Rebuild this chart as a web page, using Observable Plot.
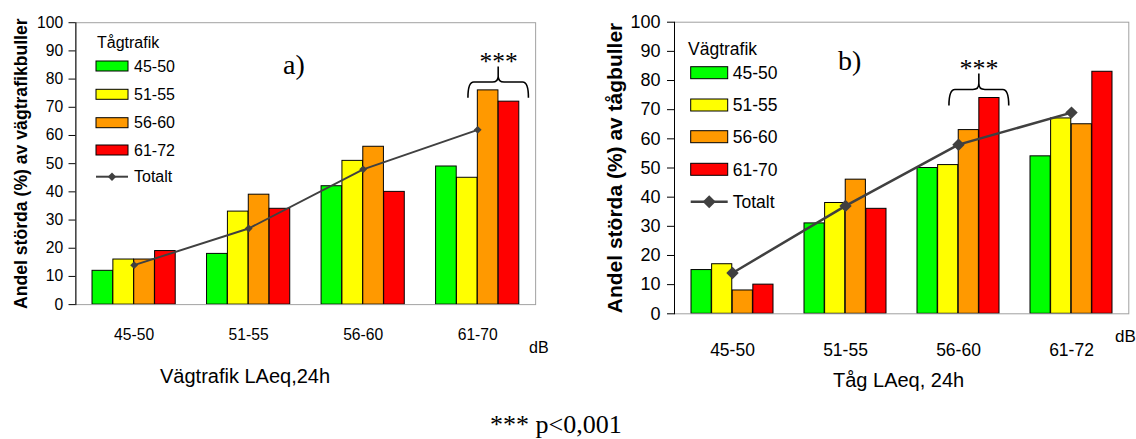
<!DOCTYPE html>
<html>
<head>
<meta charset="utf-8">
<script src="https://cdn.jsdelivr.net/npm/d3@7"></script>
<script src="https://cdn.jsdelivr.net/npm/@observablehq/plot@0.6"></script>
<style>
  body { margin: 0; background: #fff; }
  #root { position: relative; width: 1136px; height: 439px; overflow: hidden; background: #fff; }
  .panel { position: absolute; top: 0; overflow: hidden; }
  .panel svg { display: block; }
  #overlay { position: absolute; left: 0; top: 0; pointer-events: none; }
</style>
</head>
<body>
<div id="root"></div>
<script>
// ---- Data ----------------------------------------------------------------
// Panel a: share annoyed by road traffic noise, grouped by road LAeq,24h,
// one bar per train-noise class.
const roadLevelsA = ["45-50", "51-55", "56-60", "61-70"];
const trainClassesA = ["45-50", "51-55", "56-60", "61-72"];
const a_45_50 = [12, 18, 42, 49];
const a_51_55 = [16, 33, 51, 45];
const a_56_60 = [16, 39, 56, 76];
const a_61_72 = [19, 34, 40, 72];
const a_total = [14, 27, 48, 62];

// Panel b: share annoyed by train noise, grouped by train LAeq,24h,
// one bar per road-noise class.
const trainLevelsB = ["45-50", "51-55", "56-60", "61-72"];
const roadClassesB = ["45-50", "51-55", "56-60", "61-70"];
const b_45_50 = [15, 31, 50, 54];
const b_51_55 = [17, 38, 51, 67];
const b_56_60 = [8, 46, 63, 65];
const b_61_70 = [10, 36, 74, 83];
const b_total = [14, 37, 58, 69];

const yTicks = [0, 10, 20, 30, 40, 50, 60, 70, 80, 90, 100];

// ---- Styling -------------------------------------------------------------
const COLORS = ["#00ff00", "#ffff00", "#ff9900", "#ff0000"];
const LINE = "#404040";
const SANS = "'Liberation Sans', Arial, sans-serif";
const SERIF = "'Liberation Serif', 'Times New Roman', serif";
const PAD_INNER = 0.274, PAD_OUTER = 0.137;

const panels = [
  {
    id: "a", left: 0, clipLeft: 12, W: 568, H: 400,
    ml: 77, mr: 21.3, mt: 22.7, mb: 89.3,
    groups: roadLevelsA, series: trainClassesA,
    values: [a_45_50, a_51_55, a_56_60, a_61_72], totals: a_total,
    sig: {group: "61-70", lo: 2, hi: 3},
    yTitle: "Andel störda (%) av vägtrafikbuller", yTitleSize: 18, yTitleDx: -56,
    yFont: 16, yPad: 6, xFont: 16, xPad: 25,
    lineWidth: 2, dotR: 3.6,
    legendTitle: "Tågtrafik",
    legend: {x: 96, titleY: 48, titleX: 97, rows: [66, 94.3, 122.7, 150, 176.7], sw: 32, sh: 10, labelX: 134, font: 16, diamond: 4.2},
    letter: {text: "a)", x: 283, y: 74},
    xTitle: {text: "Vägtrafik LAeq,24h", x: 160, y: 383, size: 20},
    unit: {x: 529, y: 353, size: 16}
  },
  {
    id: "b", left: 568, clipLeft: 0, W: 568, H: 400,
    ml: 106, mr: 7.7, mt: 21.7, mb: 86.7,
    groups: trainLevelsB, series: roadClassesB,
    values: [b_45_50, b_51_55, b_56_60, b_61_70], totals: b_total,
    sig: {group: "56-60", lo: 2, hi: 3},
    yTitle: "Andel störda (%) av tågbuller", yTitleSize: 21, yTitleDx: -59,
    yFont: 18, yPad: 7, xFont: 17.5, xPad: 30,
    lineWidth: 2.5, dotR: 5.6,
    legendTitle: "Vägtrafik",
    legend: {x: 690.7, titleY: 55, titleX: 688, rows: [72.7, 105, 136.7, 169.3, 201.7], sw: 37, sh: 12, labelX: 732.7, font: 17.5, diamond: 6.5},
    letter: {text: "b)", x: 838, y: 70},
    xTitle: {text: "Tåg LAeq, 24h", x: 833, y: 387, size: 20},
    unit: {x: 1115, y: 342, size: 17}
  }
];

const root = document.getElementById("root");

function drawPanel(p) {
  const n = p.series.length;
  const band = d3.scaleBand().domain(p.groups).range([p.ml, p.W - p.mr])
    .paddingInner(PAD_INNER).paddingOuter(PAD_OUTER);
  const w = band.bandwidth() / n;
  const rows = p.series.flatMap((s, i) =>
    p.groups.map((g, j) => ({group: g, series: s, value: p.values[i][j]})));
  const totals = p.groups.map((g, j) => ({group: g, value: p.totals[j]}));
  const gi = p.groups.indexOf(p.sig.group);
  const sigTop = d3.max([p.sig.lo, p.sig.hi], i => p.values[i][gi]);
  const sigOffset = ((p.sig.lo + p.sig.hi + 1) / 2 - n / 2) * w;

  const svg = Plot.plot({
    width: p.W, height: p.H,
    marginLeft: p.ml, marginRight: p.mr, marginTop: p.mt, marginBottom: p.mb,
    style: {fontFamily: SANS, fontSize: "16px", color: "#000", background: "none", overflow: "visible"},
    x: {type: "band", domain: p.groups, paddingInner: PAD_INNER, paddingOuter: PAD_OUTER},
    y: {domain: [0, 100]},
    marks: [
      ...p.series.map((s, i) => Plot.barY(rows.filter(d => d.series === s), {
        x: "group", y: "value", fill: COLORS[i], stroke: "#000", strokeWidth: 1,
        insetLeft: i * w, insetRight: (n - 1 - i) * w
      })),
      Plot.line(totals, {x: "group", y: "value", stroke: LINE, strokeWidth: p.lineWidth}),
      Plot.dot(totals, {x: "group", y: "value", symbol: "diamond2", r: p.dotR, fill: LINE, stroke: "none"}),
      Plot.text([{group: p.sig.group, value: sigTop}], {
        x: "group", y: "value", text: () => "***", dx: sigOffset, dy: -29,
        fontFamily: SERIF, fontSize: 26, fill: "#000"
      }),
      Plot.frame({stroke: "#a0a0a0"}),
      Plot.frame({anchor: "left", stroke: "#000"}),
      Plot.axisY({ticks: yTicks, tickSize: 7, tickPadding: p.yPad, fontSize: p.yFont, label: null}),
      Plot.axisX({tickSize: 0, tickPadding: p.xPad, fontSize: p.xFont, label: null}),
      Plot.text([p.yTitle], {
        frameAnchor: "left", textAnchor: "middle", rotate: -90, dx: p.yTitleDx, text: d => d,
        fontWeight: "bold", fontSize: p.yTitleSize, fill: "#000"
      })
    ]
  });

  // Curly bracket over the pair of bars that differ significantly
  const sx = svg.scale("x"), sy = svg.scale("y");
  const xc = sx.apply(p.sig.group) + (p.sig.lo + p.sig.hi + 1) / 2 * w;
  const half = 1.45 * w;
  const top = sy.apply(sigTop);
  const yH = top - 8, yB = top + 8, yT = top - 24, r = 6;
  const d = `M${xc - half},${yB} Q${xc - half},${yH} ${xc - half + r},${yH} L${xc - r},${yH} Q${xc},${yH} ${xc},${yH - r} L${xc},${yT}` +
            ` M${xc},${yT} L${xc},${yH - r} Q${xc},${yH} ${xc + r},${yH} L${xc + half - r},${yH} Q${xc + half},${yH} ${xc + half},${yB}`;
  d3.select(svg).append("path").attr("d", d).attr("fill", "none")
    .attr("stroke", "#000").attr("stroke-width", 1.6);

  const holder = document.createElement("div");
  holder.className = "panel";
  holder.style.left = (p.left + p.clipLeft) + "px";
  holder.style.width = (p.W - p.clipLeft) + "px";
  holder.style.height = p.H + "px";
  svg.style.marginLeft = (-p.clipLeft) + "px";
  holder.appendChild(svg);
  root.appendChild(holder);
}

panels.forEach(drawPanel);

// ---- Legends, panel letters, axis titles and footnote ----------------------
const ov = d3.select(root).append("svg").attr("id", "overlay")
  .attr("width", 1136).attr("height", 439);

function txt(x, y, s, size, family) {
  return ov.append("text").attr("x", x).attr("y", y).text(s)
    .attr("font-size", size).attr("font-family", family).attr("fill", "#000");
}

panels.forEach(p => {
  const L = p.legend;
  txt(L.titleX, L.titleY, p.legendTitle, L.font, SANS);
  p.series.forEach((s, i) => {
    const c = L.rows[i];
    ov.append("rect").attr("x", L.x).attr("y", c - L.sh / 2).attr("width", L.sw).attr("height", L.sh)
      .attr("fill", COLORS[i]).attr("stroke", "#000").attr("stroke-width", 1);
    txt(L.labelX, c + L.font * 0.36, s, L.font, SANS);
  });
  const c = L.rows[4];
  ov.append("line").attr("x1", L.x).attr("x2", L.x + L.sw).attr("y1", c).attr("y2", c)
    .attr("stroke", LINE).attr("stroke-width", p.lineWidth);
  const m = L.x + L.sw / 2, h = L.diamond;
  ov.append("path").attr("d", `M${m},${c - h}L${m + h},${c}L${m},${c + h}L${m - h},${c}Z`).attr("fill", LINE);
  txt(L.labelX, c + L.font * 0.36, "Totalt", L.font, SANS);

  txt(p.letter.x, p.letter.y, p.letter.text, 28, SERIF);
  txt(p.xTitle.x, p.xTitle.y, p.xTitle.text, p.xTitle.size, SANS);
  txt(p.unit.x, p.unit.y, "dB", p.unit.size, SANS);
});

txt(490, 433, "*** p<0,001", 26, SERIF);
</script>
</body>
</html>
